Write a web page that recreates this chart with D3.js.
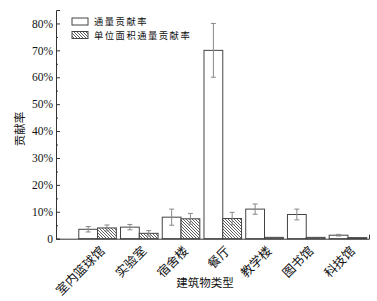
<!DOCTYPE html>
<html>
<head>
<meta charset="utf-8">
<script src="https://cdn.jsdelivr.net/npm/d3@7"></script>
<style>
  body { margin: 0; background: #fff; }
  svg { display: block; }
</style>
</head>
<body>
<svg id="chart" width="377" height="301"></svg>
<script>
var categories = ['室内篮球馆', '实验室', '宿舍楼', '餐厅', '教学楼', '图书馆', '科技馆']
var fluxRate = [3.5, 4.3, 8.0, 70.0, 11.0, 9.0, 1.3]
var fluxErr = [1.0, 1.0, 3.0, 10.0, 1.9, 2.0, 0.3]
var unitFluxRate = [4.0, 2.0, 7.4, 7.5, 0.5, 0.5, 0.4]
var unitFluxErr = [1.1, 1.0, 2.0, 2.3, 0, 0, 0]
var seriesNames = ['通量贡献率', '单位面积通量贡献率']
var majorTicks = [0, 10, 20, 30, 40, 50, 60, 70, 80]
var minorTicks = [5, 15, 25, 35, 45, 55, 65, 75]

var svg = d3.select('#chart')
var cjk = '"Noto Sans CJK SC", sans-serif'
var serif = '"Liberation Serif", "Times New Roman", serif'

var defs = svg.append('defs')
var pat = defs.append('pattern')
    .attr('id', 'hatch')
    .attr('patternUnits', 'userSpaceOnUse')
    .attr('width', 3)
    .attr('height', 3)
pat.append('rect').attr('width', 3).attr('height', 3).attr('fill', '#fff')
pat.append('path')
    .attr('d', 'M-1,2 L1,4 M0,0 L3,3 M2,-1 L4,1')
    .attr('stroke', '#333')
    .attr('stroke-width', 0.8)

var xLeft = 56, xRight = 369, yBottom = 238.7, yTop = 10

var yScale = d3.scaleLinear()
    .domain([0, 85])
    .range([yBottom, yTop])

var xScale = d3.scaleBand()
    .domain(categories)
    .range([xLeft, xRight])
    .paddingInner(0.1)
    .paddingOuter(0.3)
    .align(0.91)

var bw = xScale.bandwidth() / 2

// y axis
svg.append('g')
    .attr('transform', 'translate(' + xLeft + ',0)')
    .call(d3.axisLeft(yScale)
        .tickValues(majorTicks)
        .tickSize(-4)
        .tickSizeOuter(-4)
        .tickPadding(3)
        .tickFormat((d) => d == 0 ? '0' : d + '%'))
    .call((g) => g.selectAll('text').attr('font-family', serif).attr('font-size', 11.5).attr('fill', '#111'))
    .call((g) => g.selectAll('line, path').attr('stroke', '#333'))

svg.append('g')
    .attr('transform', 'translate(' + xLeft + ',0)')
    .call(d3.axisLeft(yScale)
        .tickValues(minorTicks)
        .tickSize(-2)
        .tickFormat(''))
    .call((g) => g.select('.domain').remove())
    .call((g) => g.selectAll('line').attr('stroke', '#333'))

// bars
var groups = svg.append('g')
    .selectAll('g')
    .data(categories)
    .join('g')

groups.append('rect')
    .attr('x', (d) => xScale(d))
    .attr('y', (d, i) => yScale(fluxRate[i]))
    .attr('width', bw)
    .attr('height', (d, i) => yBottom - yScale(fluxRate[i]))
    .attr('fill', '#fff')
    .attr('stroke', '#444')
    .attr('stroke-width', 1)

groups.append('rect')
    .attr('x', (d) => xScale(d) + bw)
    .attr('y', (d, i) => yScale(unitFluxRate[i]))
    .attr('width', bw)
    .attr('height', (d, i) => yBottom - yScale(unitFluxRate[i]))
    .attr('fill', 'url(#hatch)')
    .attr('stroke', '#444')
    .attr('stroke-width', 1)

// error bars
function drawErr(vals, errs, off) {
    var eg = svg.append('g').attr('stroke', '#888').attr('stroke-width', 1)
    categories.forEach((c, i) => {
        if (errs[i] <= 0) return
        var cx = xScale(c) + off + bw / 2
        var y1 = yScale(vals[i] + errs[i]), y0 = yScale(vals[i] - errs[i])
        eg.append('line').attr('x1', cx).attr('x2', cx).attr('y1', y1).attr('y2', y0)
        eg.append('line').attr('x1', cx - 2.5).attr('x2', cx + 2.5).attr('y1', y1).attr('y2', y1)
        eg.append('line').attr('x1', cx - 2.5).attr('x2', cx + 2.5).attr('y1', y0).attr('y2', y0)
    })
}
drawErr(fluxRate, fluxErr, 0)
drawErr(unitFluxRate, unitFluxErr, bw)

// x axis
var xAxisG = svg.append('g')
    .attr('transform', 'translate(0,' + yBottom + ')')
    .call(d3.axisBottom(xScale)
        .tickSize(0)
        .tickSizeOuter(-4)
        .tickPadding(0))
xAxisG.selectAll('path').attr('stroke', '#333')
xAxisG.selectAll('text')
    .attr('font-family', cjk)
    .attr('font-size', 12.5)
    .attr('fill', '#111')
    .attr('text-anchor', 'end')
    .attr('dy', null)
    .attr('y', null)
    .attr('transform', 'translate(8,13) rotate(-45)')

// axis titles
svg.append('text')
    .attr('x', 205)
    .attr('y', 287)
    .attr('text-anchor', 'middle')
    .attr('font-family', cjk)
    .attr('font-size', 11.5)
    .attr('fill', '#111')
    .text('建筑物类型')

svg.append('text')
    .attr('transform', 'translate(24,129) rotate(-90)')
    .attr('text-anchor', 'middle')
    .attr('font-family', cjk)
    .attr('font-size', 11.5)
    .attr('fill', '#111')
    .text('贡献率')

// legend
var legend = svg.append('g')
var legendFills = ['#fff', 'url(#hatch)']
seriesNames.forEach((name, i) => {
    legend.append('rect')
        .attr('x', 72)
        .attr('y', 18 + i * 13.5)
        .attr('width', 16)
        .attr('height', 7)
        .attr('fill', legendFills[i])
        .attr('stroke', '#444')
    legend.append('text')
        .attr('x', 94)
        .attr('y', 25.3 + i * 13.5)
        .attr('font-family', cjk)
        .attr('font-size', 9.3)
        .attr('letter-spacing', 1.5)
        .attr('fill', '#111')
        .text(name)
})
</script>
</body>
</html>
